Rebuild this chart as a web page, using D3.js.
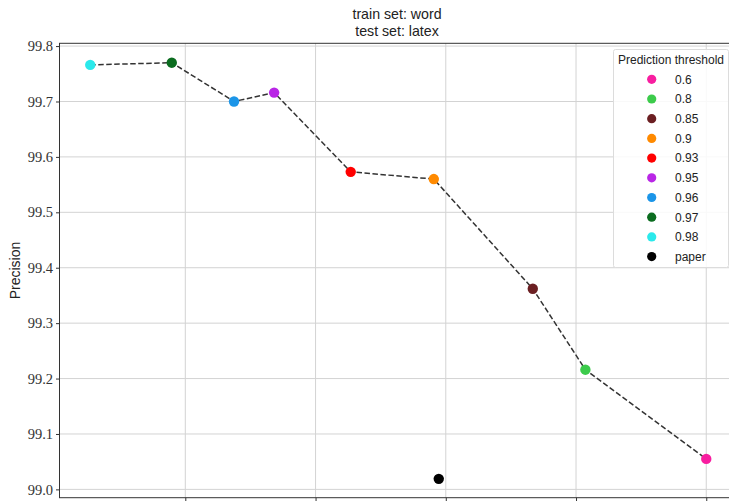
<!DOCTYPE html>
<html>
<head>
<meta charset="utf-8">
<script src="https://cdn.jsdelivr.net/npm/d3@7"></script>
<style>
  body { margin: 0; background: #fff; }
  svg { display: block; }
  .ytick text { font-family: "Liberation Serif", "DejaVu Serif", serif; font-size: 14.5px; fill: #333; }
  .sans { font-family: "Liberation Sans", Lato, sans-serif; fill: #222; }
</style>
</head>
<body>
<div id="chart"></div>
<script>
// thresholds, in the order the dashed line joins them
const thresholds = ["0.98", "0.97", "0.96", "0.95", "0.93", "0.9", "0.85", "0.8", "0.6"];
const recall = [96.635, 96.948, 97.187, 97.341, 97.635, 97.954, 98.334, 98.536, 99.0];
const precision = [99.766, 99.770, 99.700, 99.716, 99.573, 99.560, 99.362, 99.216, 99.055];
const colors = ["#2be9eb", "#0b6c1f", "#1b95e8", "#b926e6", "#ff0000", "#ff8a00", "#6b1f22", "#3ccb4b", "#f81ea0"];

const paperRecall = [97.973];
const paperPrecision = [99.019];

const legendLabels = ["0.6", "0.8", "0.85", "0.9", "0.93", "0.95", "0.96", "0.97", "0.98", "paper"];
const yTicks = [99.0, 99.1, 99.2, 99.3, 99.4, 99.5, 99.6, 99.7, 99.8];
const xTicks = [97.0, 97.5, 98.0, 98.5, 99.0];

const width = 729, height = 501;
const plot = {left: 59.5, right: 737, top: 43.3, bottom: 497.7};

const points = thresholds.map((t, i) => ({t: t, x: recall[i], y: precision[i], c: colors[i]}));
const colorOf = {};
points.forEach(d => colorOf[d.t] = d.c);
colorOf["paper"] = "#000000";

const x = d3.scaleLinear().domain([96.517, 99.118]).range([plot.left, plot.right]);
const y = d3.scaleLinear().domain([98.985, 99.805]).range([plot.bottom, plot.top]);

const svg = d3.select("#chart").append("svg")
    .attr("width", width)
    .attr("height", height);

// grid
svg.append("g").selectAll("line")
  .data(xTicks)
  .enter().append("line")
    .attr("x1", d => x(d)).attr("x2", d => x(d))
    .attr("y1", plot.top).attr("y2", plot.bottom)
    .attr("stroke", "#d3d3d3").attr("stroke-width", 1);

svg.append("g").selectAll("line")
  .data(yTicks)
  .enter().append("line")
    .attr("x1", plot.left).attr("x2", plot.right)
    .attr("y1", d => y(d)).attr("y2", d => y(d))
    .attr("stroke", "#d3d3d3").attr("stroke-width", 1);

// y axis
const yAxis = svg.append("g")
    .attr("class", "ytick")
    .attr("transform", "translate(" + plot.left + ",0)")
    .call(d3.axisLeft(y).tickValues(yTicks).tickFormat(d3.format(".1f")).tickSize(3.5).tickPadding(3));
yAxis.select(".domain").remove();
yAxis.selectAll("line").attr("stroke", "#333");

// x ticks (labels fall below the picture)
svg.append("g")
    .attr("transform", "translate(0," + plot.bottom + ")")
    .call(d3.axisBottom(x).tickValues(xTicks).tickSize(3.5).tickFormat(""))
    .call(g => g.select(".domain").remove())
    .selectAll("line").attr("stroke", "#333");

// spines
svg.append("rect")
    .attr("x", plot.left).attr("y", plot.top)
    .attr("width", plot.right - plot.left).attr("height", plot.bottom - plot.top)
    .attr("fill", "none").attr("stroke", "#333").attr("stroke-width", 1);

// dashed line
const line = d3.line().x(d => x(d.x)).y(d => y(d.y));
svg.append("path")
    .datum(points)
    .attr("d", line)
    .attr("fill", "none")
    .attr("stroke", "#333")
    .attr("stroke-width", 1.5)
    .attr("stroke-dasharray", "5.5,2.5");

svg.append("g").selectAll("circle")
  .data(points)
  .enter().append("circle")
    .attr("cx", d => x(d.x))
    .attr("cy", d => y(d.y))
    .attr("r", 5.2)
    .attr("fill", d => d.c);

svg.append("g").selectAll("circle")
  .data(paperRecall)
  .enter().append("circle")
    .attr("cx", d => x(d))
    .attr("cy", (d, i) => y(paperPrecision[i]))
    .attr("r", 5.2)
    .attr("fill", "#000");

// title
svg.append("text").attr("class", "sans")
    .attr("x", 397).attr("y", 19)
    .attr("text-anchor", "middle").attr("font-size", 14.2)
    .text("train set: word");
svg.append("text").attr("class", "sans")
    .attr("x", 397).attr("y", 36)
    .attr("text-anchor", "middle").attr("font-size", 14.2)
    .text("test set: latex");

// y label
svg.append("text").attr("class", "sans")
    .attr("transform", "translate(20," + ((plot.top + plot.bottom) / 2) + ") rotate(-90)")
    .attr("text-anchor", "middle").attr("font-size", 14)
    .text("Precision");

// legend
const lg = svg.append("g");
lg.append("rect")
    .attr("x", 613.5).attr("y", 49.5)
    .attr("width", 115).attr("height", 218)
    .attr("rx", 2)
    .attr("fill", "#fff").attr("fill-opacity", 0.85)
    .attr("stroke", "#dcdcdc");
lg.append("text").attr("class", "sans")
    .attr("x", 671).attr("y", 63.5)
    .attr("text-anchor", "middle").attr("font-size", 12)
    .text("Prediction threshold");

const rows = lg.selectAll("g.row")
  .data(legendLabels)
  .enter().append("g")
    .attr("transform", (d, i) => "translate(0," + (79.3 + i * 19.7) + ")");
rows.append("circle")
    .attr("cx", 651.7).attr("cy", 0).attr("r", 4.6)
    .attr("fill", d => colorOf[d]);
rows.append("text").attr("class", "sans")
    .attr("x", 675).attr("y", 4.3)
    .attr("font-size", 12)
    .text(d => d);
</script>
</body>
</html>
